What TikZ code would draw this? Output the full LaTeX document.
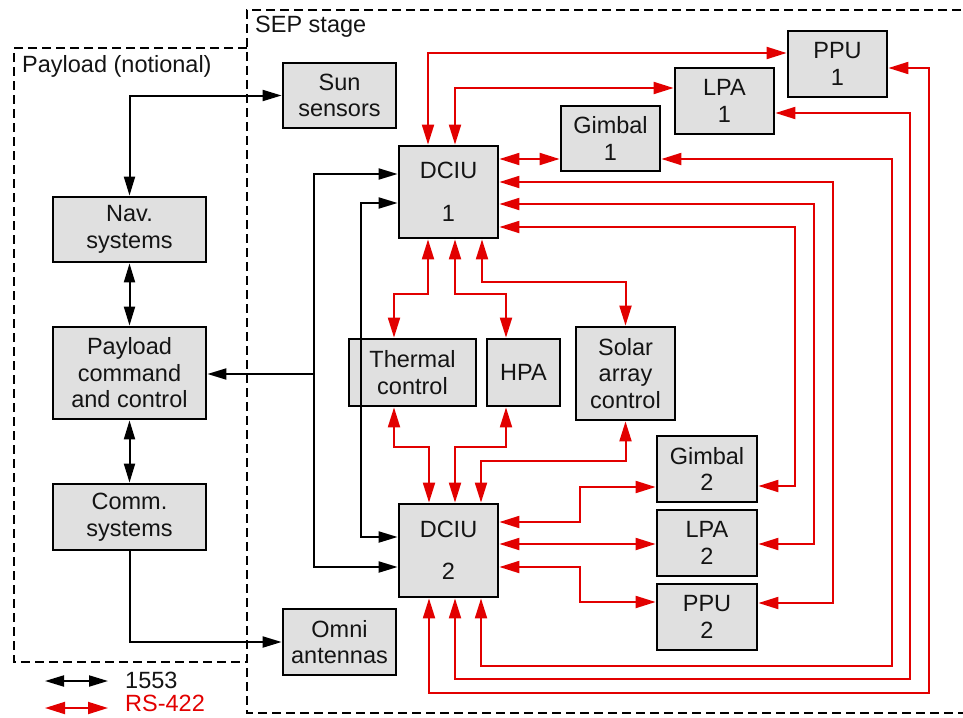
\documentclass[tikz,border=0pt]{standalone}
\usepackage{fontspec}
\setmainfont{Liberation Sans}
\usetikzlibrary{arrows.meta}
\definecolor{rsred}{RGB}{226,0,0}
\definecolor{boxgray}{RGB}{224,224,224}
\definecolor{txt}{RGB}{20,20,20}
\begin{document}
\begin{tikzpicture}[x=1pt,y=-1pt,
  box/.style={draw=black, line width=2.8pt, fill=boxgray, inner sep=0pt, align=center,
              font=\fontsize{23.5}{26.5}\selectfont, text=txt},
  blk/.style={line width=2pt, draw=black, >={Triangle[length=19pt,width=11pt]}},
  rs/.style={line width=2pt, draw=rsred, >={Triangle[length=20pt,width=12pt]}},
  region/.style={draw=black, line width=2pt, dash pattern=on 9pt off 5pt},
  lbl/.style={font=\fontsize{23.5}{26.5}\selectfont, inner sep=0pt, text=txt}
]
\useasboundingbox (0,0) rectangle (963,717);

% regions
\draw[region] (247,48) -- (14,48) -- (14,662) -- (247,662);
\draw[region] (975,10) -- (247,10) -- (247,713) -- (975,713);
\node[lbl, anchor=base west] (seplbl) at (255,33) {SEP stage};
\node[lbl, anchor=base west] (paylbl) at (22,73) {Payload (notional)};

% boxes
\node[box, minimum width=113pt, minimum height=65pt] (sun) at (339.5,95.5) {Sun\\sensors};
\node[box, minimum width=153pt, minimum height=65pt] (nav) at (129.5,229.5) {Nav.\\systems};
\node[box, minimum width=153pt, minimum height=92pt] (pcc) at (129.5,373) {Payload\\command\\and control};
\node[box, minimum width=153pt, minimum height=66pt] (comm) at (129.5,517) {Comm.\\systems};
\node[box, minimum width=113pt, minimum height=66pt] (omni) at (339.5,642) {Omni\\antennas};
\node[box, minimum width=99pt, minimum height=92pt] (dciu1) at (448.5,192) {DCIU\\[16pt]1};
\node[box, minimum width=99pt, minimum height=65pt] (gim1) at (610.5,138.5) {Gimbal\\1};
\node[box, minimum width=99pt, minimum height=66pt] (lpa1) at (724.5,101) {LPA\\1};
\node[box, minimum width=99pt, minimum height=66pt] (ppu1) at (837.5,64) {PPU\\1};
\node[box, minimum width=127pt, minimum height=67pt] (therm) at (412.5,372.5) {Thermal\\control};
\node[box, minimum width=73pt, minimum height=67pt] (hpa) at (523.5,372.5) {HPA};
\node[box, minimum width=99pt, minimum height=93pt] (solar) at (625.5,373.5) {Solar\\array\\control};
\node[box, minimum width=99pt, minimum height=93pt] (dciu2) at (448.5,550.5) {DCIU\\[16pt]2};
\node[box, minimum width=100pt, minimum height=66pt] (gim2) at (707,469) {Gimbal\\2};
\node[box, minimum width=100pt, minimum height=66pt] (lpa2) at (707,543) {LPA\\2};
\node[box, minimum width=100pt, minimum height=66pt] (ppu2) at (707,617) {PPU\\2};

% 1553 (black)
\draw[blk,<->] (nav.north) |- (sun.west);
\draw[blk,<->] (nav.south) -- (pcc.north);
\draw[blk,<->] (pcc.south) -- (comm.north);
\draw[blk,->] (comm.south) |- (omni.west);
\coordinate (busA) at (314,374);
\draw[blk,<->] (dciu1.west |- 0,174) -- (314,174) -- (314,567) -- (dciu2.west |- 0,567);
\draw[blk,->] (busA) -- (pcc.east |- busA);
\draw[blk,<->] (dciu1.west |- 0,203) -- (361,203) -- (361,537) -- (dciu2.west |- 0,537);

% RS-422 (red)
\draw[rs,<->] (dciu1.north -| 428,0) |- (ppu1.west |- 0,53);
\draw[rs,<->] (dciu1.north -| 455,0) |- (lpa1.west |- 0,88);
\draw[rs,<->] (dciu1.east |- 0,159) -- (gim1.west |- 0,159);
\draw[rs,<->] (dciu1.east |- 0,182) -- (833,182) -- (833,603) -- (ppu2.east |- 0,603);
\draw[rs,<->] (dciu1.east |- 0,204) -- (814,204) -- (814,544) -- (lpa2.east |- 0,544);
\draw[rs,<->] (dciu1.east |- 0,227) -- (795,227) -- (795,486) -- (gim2.east |- 0,486);
\draw[rs,<->] (ppu1.east |- 0,68) -- (929,68) -- (929,693) -- (429,693) -- (dciu2.south -| 429,0);
\draw[rs,<->] (lpa1.east |- 0,113) -- (910,113) -- (910,679) -- (455,679) -- (dciu2.south -| 455,0);
\draw[rs,<->] (gim1.east |- 0,159) -- (892,159) -- (892,666) -- (481,666) -- (dciu2.south -| 481,0);
\draw[rs,<->] (dciu1.south -| 428,0) -- (428,294) -- (394,294) -- (therm.north -| 394,0);
\draw[rs,<->] (dciu1.south -| 455,0) -- (455,294) -- (506,294) -- (hpa.north -| 506,0);
\draw[rs,<->] (dciu1.south -| 482,0) -- (482,282) -- (625.5,282) -- (solar.north);
\draw[rs,<->] (therm.south -| 394,0) -- (394,447) -- (429,447) -- (dciu2.north -| 429,0);
\draw[rs,<->] (hpa.south -| 506,0) -- (506,447) -- (455,447) -- (dciu2.north -| 455,0);
\draw[rs,<->] (solar.south) -- (625.5,461) -- (481,461) -- (dciu2.north -| 481,0);
\draw[rs,<->] (dciu2.east |- 0,522) -- (580,522) -- (580,487) -- (gim2.west |- 0,487);
\draw[rs,<->] (dciu2.east |- 0,544) -- (lpa2.west |- 0,544);
\draw[rs,<->] (dciu2.east |- 0,567) -- (580,567) -- (580,602) -- (ppu2.west |- 0,602);

% legend
\coordinate (k1a) at (45,681);
\coordinate (k1b) at (108,681);
\coordinate (k2a) at (45,708);
\coordinate (k2b) at (108,708);
\draw[blk,<->] (k1a) -- (k1b);
\draw[rs,<->] (k2a) -- (k2b);
\node[lbl, anchor=west] (k1t) at (125,680) {1553};
\node[lbl, anchor=west, text=rsred] (k2t) at (125,703) {RS-422};
\end{tikzpicture}
\end{document}
